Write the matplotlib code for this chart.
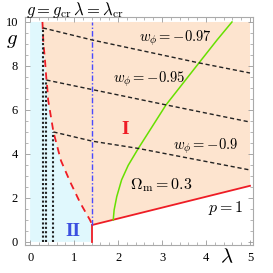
import numpy as np
import matplotlib
matplotlib.use("Agg")
import matplotlib.pyplot as plt
from matplotlib.ticker import MultipleLocator

plt.rcParams['mathtext.fontset'] = 'cm'
plt.rcParams['font.family'] = ['Liberation Serif', 'DejaVu Serif']

# critical curve g = g_cr (red dashed), from top to bottom
crit_lam = [0.28, 0.30, 0.34, 0.37, 0.39, 0.41, 0.53, 0.70, 0.91, 1.14, 1.36, 1.414]
crit_g = [10.0, 9.1, 8.2, 7.4, 7.0, 6.45, 5.0, 3.70, 2.73, 1.77, 1.0, 0.77]

lam_cr = 1.414

# p = 1 boundary (red solid)
p1_lam = [1.414, 5.0]
p1_g = [0.77, 2.55]

# Omega_m = 0.3 (green)
om_lam = [1.89, 1.91, 1.97, 2.08, 2.23, 2.46, 3.09, 3.84, 4.25, 4.59]
om_g = [1.0, 1.45, 2.06, 2.82, 3.48, 4.25, 6.23, 8.14, 9.18, 10.0]

# w_phi contours (black dashed), and their vertical part in region II
w_labels = [r"$w_\phi=-0.97$", r"$w_\phi=-0.95$", r"$w_\phi=-0.9$"]
w97_lam = [0.29, 1.414, 3.84, 5.0]
w97_g = [9.73, 9.18, 8.14, 7.68]
w95_lam = [0.37, 3.09, 5.0]
w95_g = [7.36, 6.23, 5.45]
w90_lam = [0.53, 1.414, 2.46, 5.0]
w90_g = [5.0, 4.58, 4.25, 3.27]

fig = plt.figure(figsize=(2.73, 2.73), dpi=100)
ax = fig.add_axes([0.092, 0.103, 0.835, 0.835])

# region II (light blue)
bx = [0, lam_cr] + crit_lam[::-1] + [0]
by = [0, 0] + crit_g[::-1] + [10]
ax.fill(bx, by, color="#e0f8fd", lw=0)

# region I (peach)
px = crit_lam + p1_lam[1:] + [5.0]
py = crit_g + p1_g[1:] + [10.0]
ax.fill(px, py, color="#fde4cf", lw=0)

red = "#ee1c25"
ax.plot(crit_lam, crit_g, color=red, lw=1.3, ls=(0, (4, 3)))
ax.plot([lam_cr, lam_cr], [0, p1_g[0]], color=red, lw=1.3)
ax.plot(p1_lam, p1_g, color=red, lw=1.3)
ax.plot([lam_cr, lam_cr], [p1_g[0], 10], color="#4a4aff", lw=1.0, ls=(0, (4, 1.5, 1, 1.5)))
ax.plot(om_lam, om_g, color="#66e000", lw=1.1)

for lx, ly in [(w97_lam, w97_g), (w95_lam, w95_g), (w90_lam, w90_g)]:
    ax.plot(lx, ly, color="#222222", lw=1.0, ls=(0, (3, 2)))
    ax.plot([lx[0], lx[0]], [0, ly[0]], color="#222222", lw=1.5, ls=(0, (1, 1.1)))

ax.text(3.3, 9.25, w_labels[0], fontsize=10.5, ha="center", va="center")
ax.text(2.7, 7.38, w_labels[1], fontsize=10.5, ha="center", va="center")
ax.text(4.0, 4.35, w_labels[2], fontsize=10.5, ha="center", va="center")
ax.text(2.99, 2.6, r"$\Omega_{\rm m}=0.3$", fontsize=11.5, ha="center", va="center")
ax.text(4.45, 1.55, r"$p=1$", fontsize=11.5, ha="center", va="center")
ax.text(2.16, 5.1, "I", color=red, fontsize=14, fontweight="bold", ha="center", va="center")
ax.text(0.98, 0.45, "II", color="#3b4fe0", fontsize=14, fontweight="bold", ha="center", va="center")

ax.set_xlim(-0.114, 5.07)
ax.set_ylim(-0.136, 10.23)
ax.xaxis.set_major_locator(MultipleLocator(1))
ax.xaxis.set_minor_locator(MultipleLocator(0.2))
ax.yaxis.set_major_locator(MultipleLocator(2))
ax.yaxis.set_minor_locator(MultipleLocator(0.5))
ax.tick_params(which="both", direction="in", top=True, right=True, color="#999999", labelsize=9, pad=5)
ax.tick_params(which="major", length=3.5, width=0.6)
ax.tick_params(which="minor", length=2, width=0.5)
for s in ax.spines.values():
    s.set_color("#aaaaaa")
    s.set_linewidth(0.8)

fig.text(0.045, 0.85, r"$g$", fontsize=15, ha="center", va="center")
fig.text(0.83, 0.055, r"$\lambda$", fontsize=15, ha="center", va="center")
fig.text(0.275, 0.965, r"$g=g_{\rm cr}\,\lambda=\lambda_{\rm cr}$", fontsize=12, ha="center", va="center")

fig.savefig("out.png", dpi=100)
